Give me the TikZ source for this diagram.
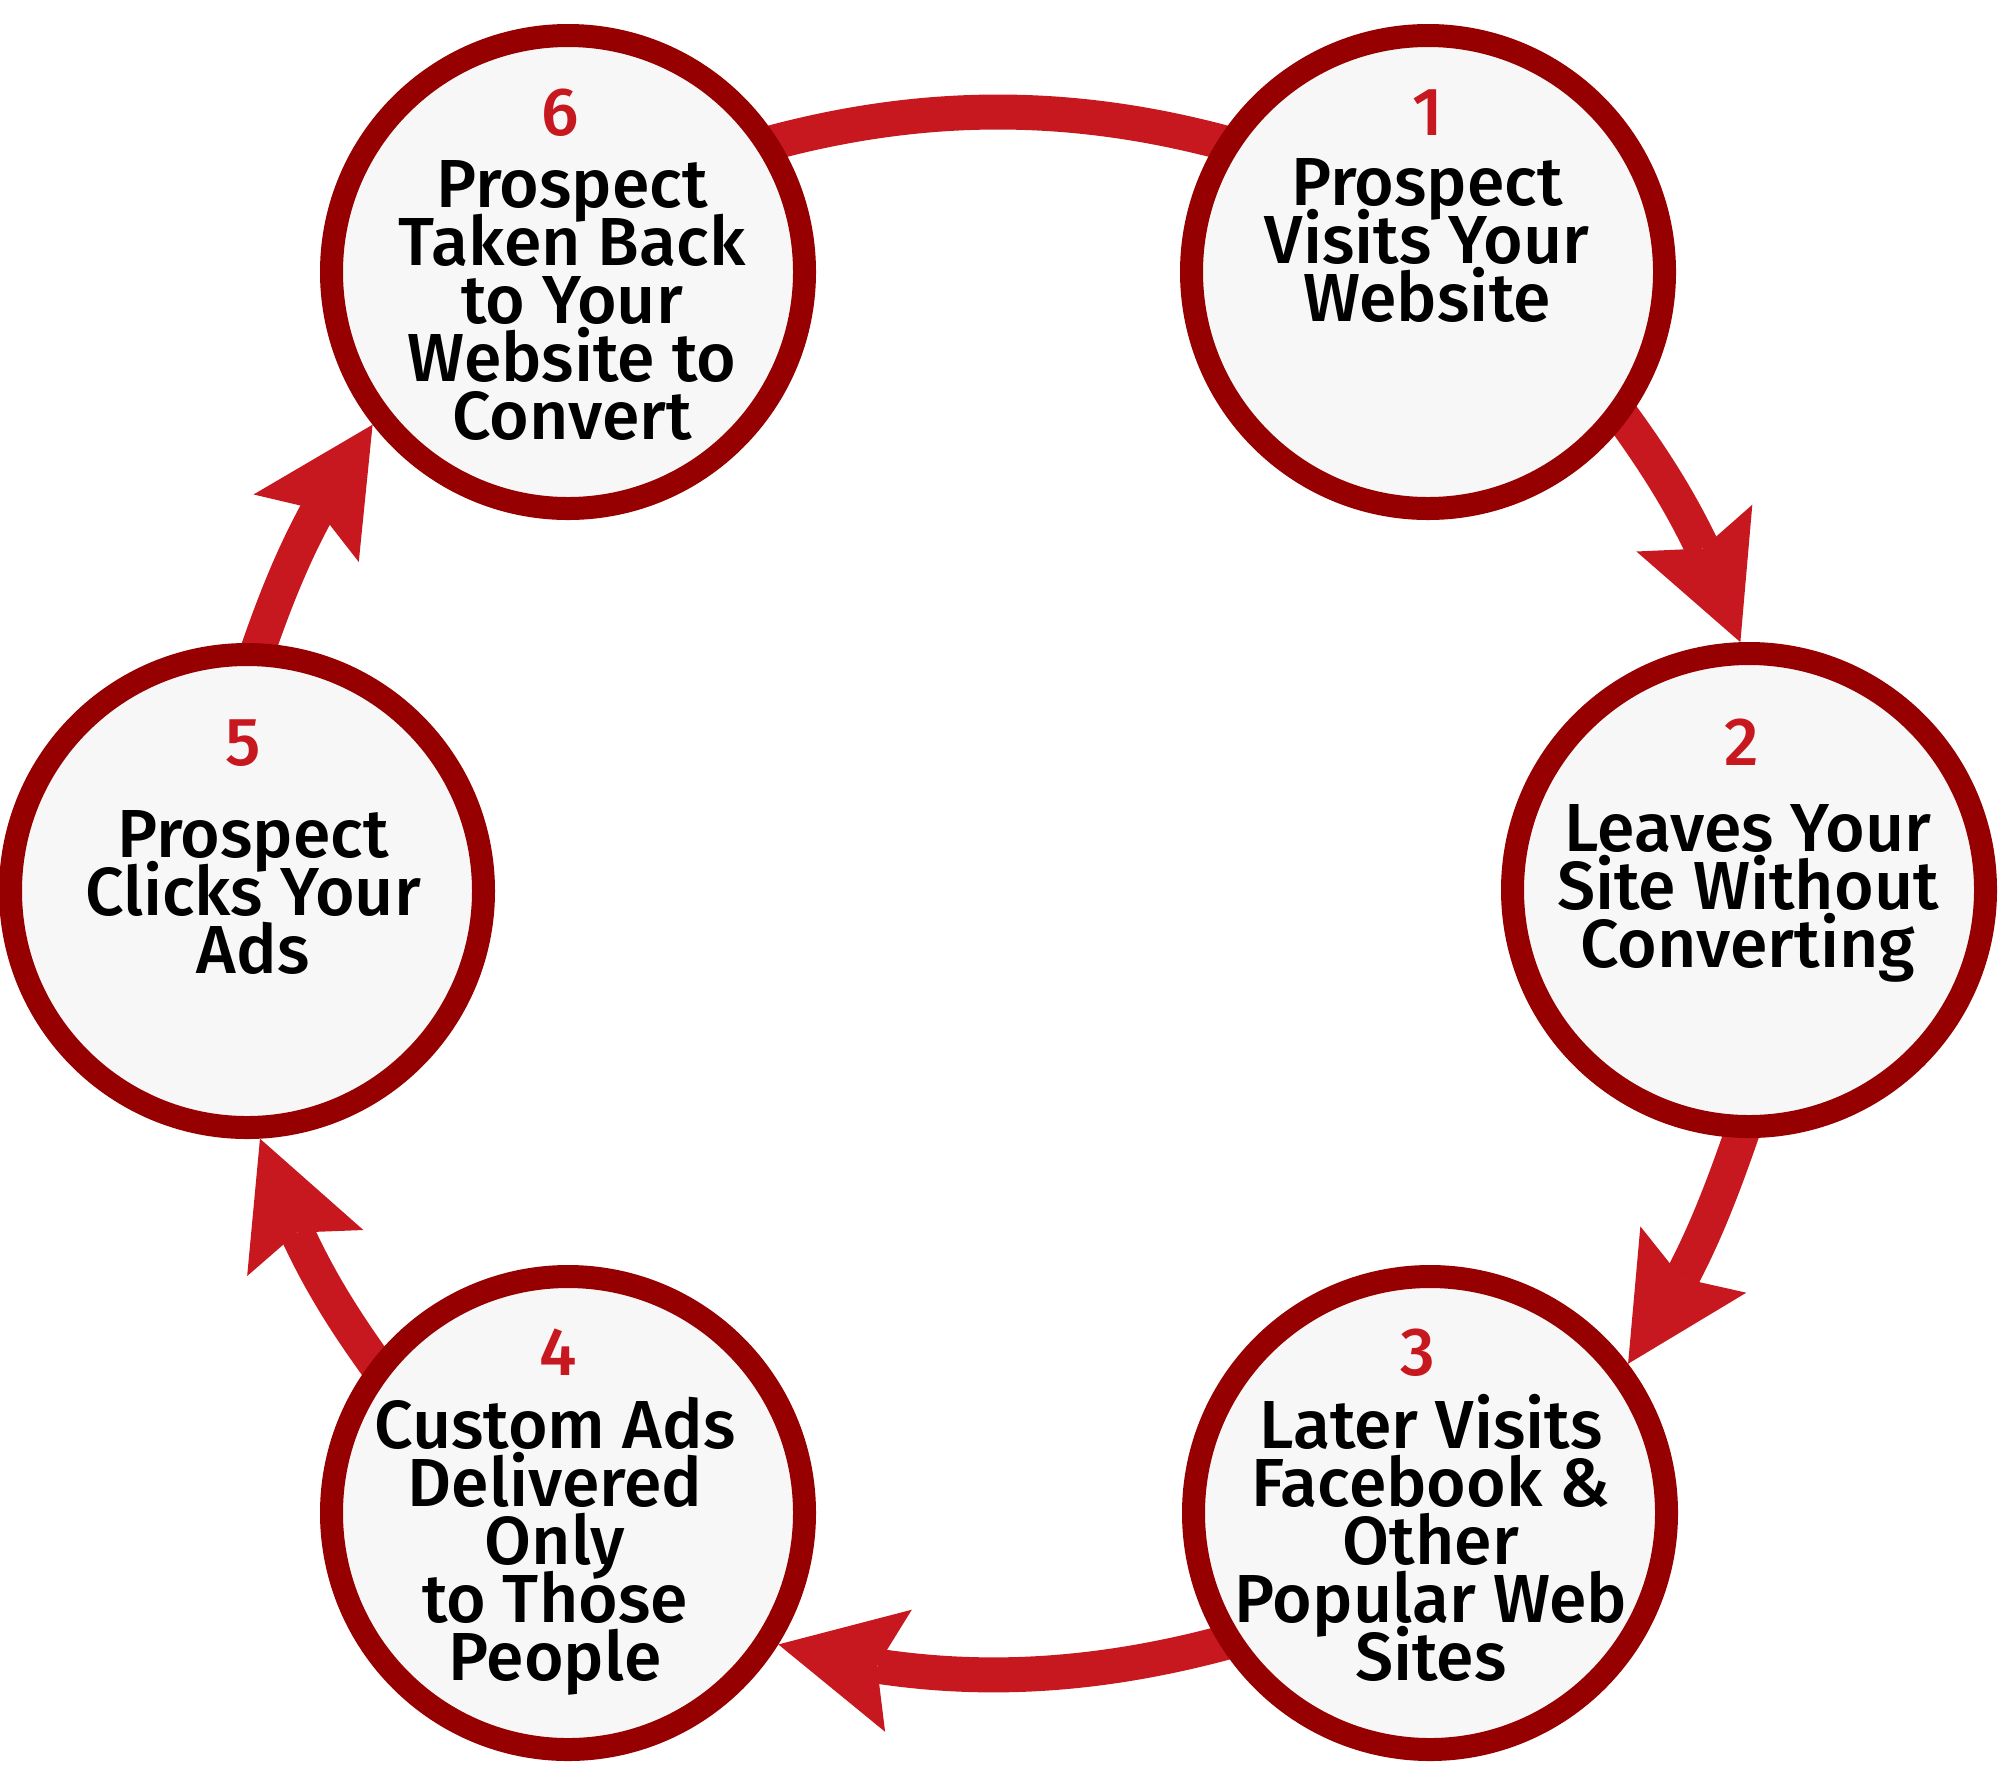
\documentclass[tikz,border=0pt]{standalone}
\usepackage{fontspec}
\setmainfont{Fira Sans}[UprightFont=* Medium]
\usetikzlibrary{arrows.meta,bending,backgrounds}
\definecolor{ringred}{HTML}{960000}
\definecolor{arrowred}{HTML}{C8181F}
\definecolor{discfill}{HTML}{F7F7F7}
\newcommand\cyclines[1]{\vtop{\baselineskip=29pt\lineskiplimit=-100pt\lineskip=0pt\halign{\hfil##\hfil\cr#1\crcr}}}
\begin{document}
\begin{tikzpicture}[x=0.5pt,y=-0.5pt,
  disc/.style={circle,draw=ringred,fill=discfill,line width=11.5pt,minimum size=236.5pt,inner sep=0pt,outer sep=5.75pt},
  numlabel/.style={anchor=base,inner sep=0pt,text=arrowred,font=\fontsize{34}{29}\selectfont},
  steptext/.style={anchor=base,inner sep=0pt,text=black,font=\fontsize{34}{29}\selectfont},
  conn/.style={draw=arrowred,line width=17.5pt,looseness=0.855,-{Stealth[length=61.5pt,width=62.5pt,inset=11pt,line width=0pt,flex]},shorten <=-15pt},
  plainconn/.style={draw=arrowred,line width=17.5pt,looseness=0.855,shorten <=-15pt,shorten >=-15pt}]
\useasboundingbox (0,0) rectangle (2000,1784);
% discs
\node[disc] (c1) at (1428,272) {};
\node[disc] (c2) at (1749,890) {};
\node[disc] (c3) at (1430,1513) {};
\node[disc] (c4) at (568,1513) {};
\node[disc] (c5) at (247,891) {};
\node[disc] (c6) at (568,272) {};
% numbers
\node[numlabel] (n1) at (1428,135) {1};
\node[numlabel] (n2) at (1742,765) {2};
\node[numlabel] (n3) at (1418,1375) {3};
\node[numlabel] (n4) at (558,1375) {4};
\node[numlabel] (n5) at (243,765) {5};
\node[numlabel] (n6) at (560,135) {6};
% texts
\node[steptext] (t1) at (1427,205) {\cyclines{Prospect\cr Visits Your\cr Website}};
\node[steptext] (t2) at (1748,851) {\cyclines{Leaves Your\cr Site Without\cr Converting}};
\node[steptext] (t3) at (1431,1448) {\cyclines{Later Visits\cr Facebook \&\cr Other\cr Popular Web\cr Sites}};
\node[steptext] (t4) at (555,1448) {\cyclines{Custom Ads\cr Delivered\cr Only\cr to Those\cr People}};
\node[steptext] (t5) at (253,857) {\cyclines{Prospect\cr Clicks Your\cr Ads}};
\node[steptext] (t6) at (572,207) {\cyclines{Prospect\cr Taken Back\cr to Your\cr Website to\cr Convert}};
% connectors
\begin{pgfonlayer}{background}
\draw[conn] (c1.-37.4) to[out=-53.2,in=108.5] (c2.92.7);
\draw[conn] (c2.-92.7) to[out=-108.5,in=53.2] (c3.37.4);
\draw[conn] (c3.-148) to[out=-163.8,in=-16.2] (c4.-32);
\draw[conn] (c4.142.6) to[out=126.8,in=-71.5] (c5.-87.3);
\draw[conn] (c5.87.3) to[out=71.5,in=-126.8] (c6.-142.6);
\draw[plainconn] (c6.32) to[out=16.2,in=163.8] (c1.148);
\end{pgfonlayer}
\end{tikzpicture}
\end{document}
